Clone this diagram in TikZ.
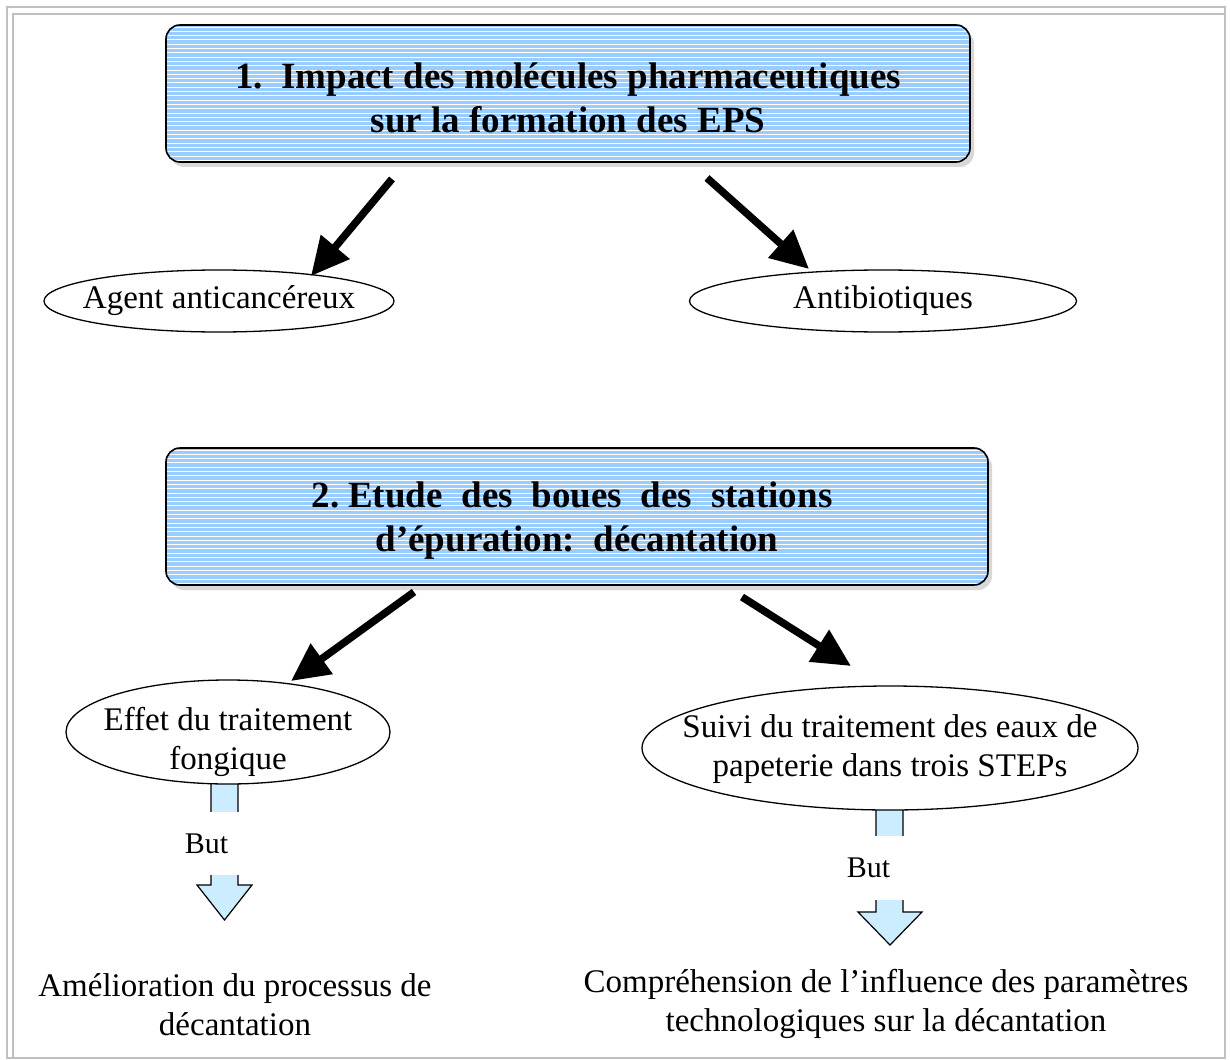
\documentclass[tikz,border=0pt]{standalone}
\usepackage{fontspec}
\setmainfont{Liberation Serif}
\usetikzlibrary{shapes.geometric,arrows.meta,shadows,calc}
\definecolor{boxblue}{HTML}{99CCFF}
\definecolor{arrowblue}{HTML}{CCECFF}
\definecolor{framegrey}{HTML}{C0C0C0}
\newcommand\bodyfnt{\fontsize{33}{39}\selectfont}
\newcommand\butfnt{\fontsize{30}{36}\selectfont}
\newcommand\headfnt{\fontsize{37}{43.5}\selectfont\bfseries}
\begin{document}
\begin{tikzpicture}[x=1pt,y=-1pt,
  headbox/.style={draw, line width=1.6pt, rounded corners=14pt, fill=boxblue,
    inner sep=0pt, align=center, font=\headfnt,
    drop shadow={shadow xshift=4pt, shadow yshift=-5pt, fill=black!30},
    path picture={\foreach \k in {0,...,40}{\draw[white,line width=0.9pt]
      ($(path picture bounding box.north west)+(0,2+\k*4.3)$) -- +(1000,0);}}},
  oval/.style={ellipse, draw, line width=1.3pt, fill=white, inner xsep=-60pt,
    inner ysep=-25pt, align=center, font=\bodyfnt},
  bigarrow/.style={line width=7.5pt, -{Triangle[length=38pt,width=36pt]}},
  blockarrow/.style={draw, line width=1.2pt, fill=arrowblue},
  butlabel/.style={fill=white, inner sep=0pt, minimum width=80pt, font=\butfnt},
  plaintext/.style={align=center, font=\bodyfnt, inner sep=0pt}]
\useasboundingbox (0,0) rectangle (1230,1059);
% frame
\draw[framegrey, line width=2pt] (7,7) rectangle (1225,1058);
\draw[framegrey, line width=2pt] (13,1058) -- (13,14) -- (1225,14);
% heading boxes
\node[headbox, minimum width=804pt, minimum height=137pt] (b1) at (568,93.5)
  {\rule{0pt}{34pt}1.\ \ Impact des molécules pharmaceutiques\\sur la formation des EPS};
\node[headbox, minimum width=822pt, minimum height=137pt] (b2) at (577,516.5)
  {\rule{0pt}{34pt}\makebox[521pt][s]{2.\hspace{9pt}Etude des boues des stations}\hspace*{10pt}\\d’épuration:\ \ décantation};
% block arrows (drawn before the ellipses that cover their tops)
\draw[blockarrow] (211,760) -- (211,885) -- (197,885) -- (224.5,920) -- (252,885)
  -- (238,885) -- (238,760) -- cycle;
\draw[blockarrow] (876,790) -- (876,912) -- (858,912) -- (890,945) -- (922,912)
  -- (903,912) -- (903,790) -- cycle;
\node[butlabel, minimum height=63pt] (but1) at (206.5,843.5) {But};
\node[butlabel, minimum height=64pt] (but2) at (868.5,868) {But};
% ellipses
\node[oval, minimum width=350pt, minimum height=62pt] (e1) at (219,301) {Agent anticancéreux};
\node[oval, minimum width=387pt, minimum height=62pt] (e2) at (883,301) {Antibiotiques};
\node[oval, minimum width=324pt, minimum height=104pt] (e3) at (228,732)
  {\rule{0pt}{44pt}Effet du traitement\\fongique};
\node[oval, minimum width=496pt, minimum height=124pt] (e4) at (890,748)
  {\rule{0pt}{26pt}Suivi du traitement des eaux de\\papeterie dans trois STEPs};
% arrows
\coordinate (s1) at (392,179); \coordinate (t1) at (311,276);
\coordinate (s2) at (707,178); \coordinate (t2) at (809,269);
\coordinate (s3) at (414,592); \coordinate (t3) at (291,681);
\coordinate (s4) at (742,597); \coordinate (t4) at (851,666);
\draw[bigarrow] (s1) -- (t1);
\draw[bigarrow] (s2) -- (t2);
\draw[bigarrow] (s3) -- (t3);
\draw[bigarrow] (s4) -- (t4);
% bottom texts
\node[plaintext] (g1) at (235,1005) {Amélioration du processus de\\décantation};
\node[plaintext] (g2) at (886,1004) {Compréhension de l’influence des paramètres\\technologiques sur la décantation};
\end{tikzpicture}
\end{document}
